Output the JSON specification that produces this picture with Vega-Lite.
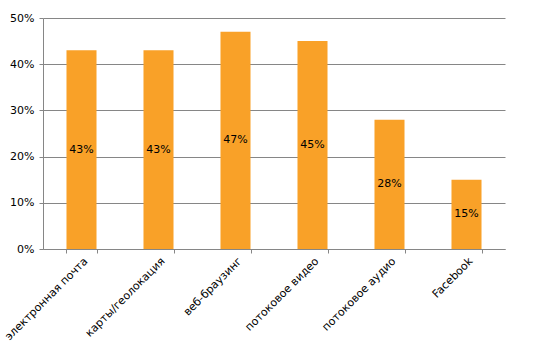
{
  "$schema": "https://vega.github.io/schema/vega-lite/v6.json",
  "autosize": "none",
  "width": 462,
  "height": 231,
  "padding": {"left": 43, "top": 18, "right": 29, "bottom": 105},
  "background": "white",
  "data": {"values": [
    {"cat": "электронная почта", "v": 0.43},
    {"cat": "карты/геолокация", "v": 0.43},
    {"cat": "веб-браузинг", "v": 0.47},
    {"cat": "потоковое видео", "v": 0.45},
    {"cat": "потоковое аудио", "v": 0.28},
    {"cat": "Facebook", "v": 0.15}
  ]},
  "config": {
    "view": {"stroke": null},
    "font": "DejaVu Sans",
    "axis": {"labelFont": "DejaVu Sans", "labelFontSize": 11, "labelColor": "#000000", "domainColor": "#868686", "tickColor": "#868686", "gridColor": "#868686", "gridOpacity": 1}
  },
  "encoding": {
    "x": {"field": "cat", "type": "nominal", "sort": null,
      "scale": {"paddingInner": 0.61, "paddingOuter": 0.305},
      "axis": {"title": null, "labelAngle": -45, "tickBand": "extent", "tickSize": 4, "labelPadding": 2, "grid": false}}
  },
  "layer": [
    {"mark": {"type": "bar", "color": "#F9A128"},
     "encoding": {
       "y": {"field": "v", "type": "quantitative",
         "scale": {"domain": [0, 0.5], "nice": false},
         "axis": {"title": null, "format": ".0%", "values": [0, 0.1, 0.2, 0.3, 0.4, 0.5], "labelOverlap": false, "tickSize": 4, "labelPadding": 5, "grid": true}}
     }},
    {"mark": {"type": "text", "fontSize": 11, "color": "#000000", "font": "DejaVu Sans", "baseline": "middle"},
     "encoding": {
       "y": {"field": "v", "type": "quantitative", "scale": {"domain": [0, 1], "nice": false}, "axis": null},
       "text": {"field": "v", "type": "quantitative", "format": ".0%"}
     }}
  ],
  "resolve": {"scale": {"y": "independent"}}
}
